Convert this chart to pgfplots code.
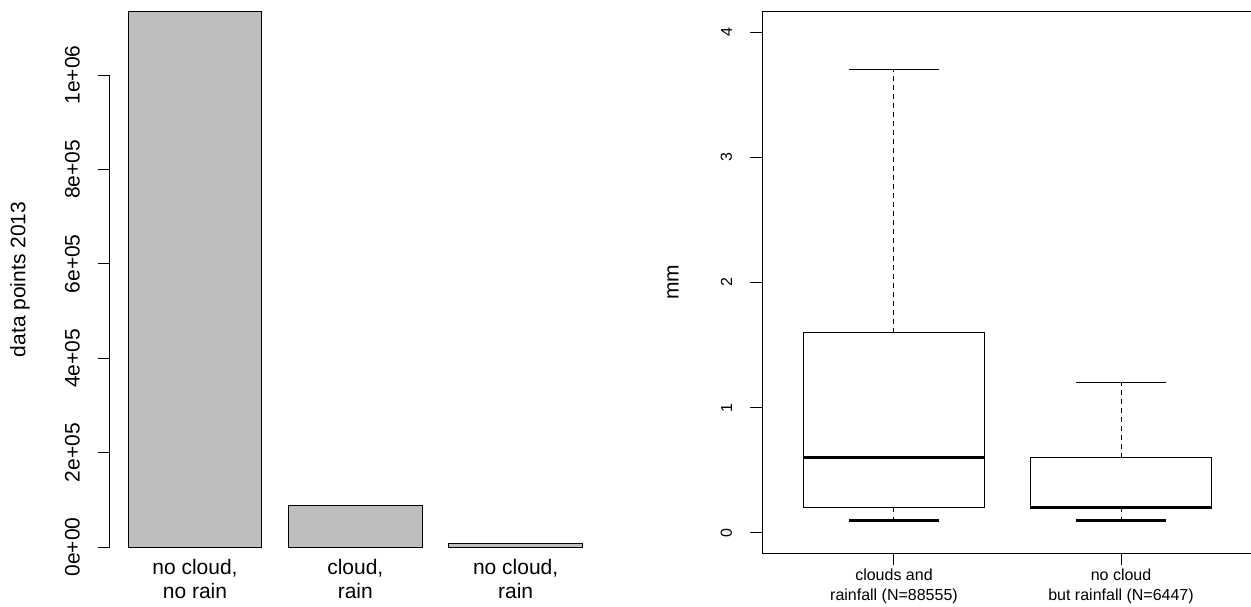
\documentclass[border=0pt]{standalone}
\usepackage{fontspec}
\setmainfont{Liberation Sans}
\usepackage{pgfplots}
\pgfplotsset{compat=1.18}
\usepgfplotslibrary{statistics}
\definecolor{bargray}{HTML}{BEBEBE}
\begin{document}
\begin{tikzpicture}
\useasboundingbox (0pt,0pt) rectangle (1251pt,606pt);
% ---------------- left: bar chart ----------------
\begin{axis}[
  at={(110pt,59pt)}, anchor=south west,
  scale only axis, width=490.6pt, height=535pt,
  xmin=0.064, xmax=3.736, ymin=0, ymax=1133500,
  clip=false,
  axis line style={draw=none},
  tick align=outside, major tick length=12pt,
  every tick/.style={black, line width=1pt},
  xtick={0.7,1.9,3.1},
  xticklabels={{no cloud,\\no rain},{cloud,\\rain},{no cloud,\\rain}},
  xtick style={draw=none},
  xticklabel style={align=center, inner sep=0pt, font=\fontsize{21}{24}\selectfont},
  ytick={0,200000,400000,600000,800000,1000000},
  yticklabels={0e+00,2e+05,4e+05,6e+05,8e+05,1e+06},
  scaled y ticks=false,
  xtick pos=bottom, ytick pos=left,
  yticklabel style={rotate=90, anchor=south, inner sep=0pt, font=\fontsize{21}{24}\selectfont},
  yticklabel shift=18pt,
  ylabel={data points 2013},
  ylabel style={at={(rel axis cs:-0.1835,0.5)}, anchor=center, font=\fontsize{21}{24}\selectfont},
]
\addplot[ybar, bar width=1, bar shift=0pt, fill=bargray, draw=black, line width=1pt]
  coordinates {(0.7,1133500) (1.9,88555) (3.1,6447)};
\draw[line width=1pt] (axis cs:0.064,0) -- (axis cs:0.064,1000000);
\end{axis}
% ---------------- right: boxplot ----------------
\begin{axis}[
  at={(762.3pt,53pt)}, anchor=south west,
  scale only axis, width=490.4pt, height=541pt,
  xmin=0.42, xmax=2.58, ymin=-0.16, ymax=4.16,
  axis line style={line width=1pt, black},
  tick align=outside, major tick length=12pt,
  every tick/.style={black, line width=1pt},
  xtick={1,2}, xtick pos=bottom, ytick pos=left,
  xticklabels={{clouds and\\rainfall (N=88555)},{no cloud\\but rainfall (N=6447)}},
  xticklabel style={align=center, inner sep=0pt, yshift=-4pt, font=\fontsize{16}{20}\selectfont},
  ytick={0,1,2,3,4},
  yticklabels={0,1,2,3,4},
  yticklabel style={rotate=90, anchor=south, inner sep=0pt, font=\fontsize{16}{20}\selectfont},
  yticklabel shift=18pt,
  ylabel={mm},
  ylabel style={at={(rel axis cs:-0.182,0.5)}, anchor=center, font=\fontsize{21}{24}\selectfont},
  boxplot/draw direction=y,
  boxplot/every median/.style={line width=3pt},
  boxplot/draw/lower whisker/.code={%
    \draw[dash pattern=on 4.5pt off 4.5pt, line width=1pt]
      (boxplot cs:\pgfplotsboxplotvalue{lower quartile}) -- (boxplot cs:\pgfplotsboxplotvalue{lower whisker});
    \draw[line width=2.5pt]
      (boxplot whisker cs:\pgfplotsboxplotvalue{lower whisker},0) -- (boxplot whisker cs:\pgfplotsboxplotvalue{lower whisker},1);
  },
  boxplot/draw/upper whisker/.code={%
    \draw[dash pattern=on 4.5pt off 4.5pt, line width=1pt]
      (boxplot cs:\pgfplotsboxplotvalue{upper quartile}) -- (boxplot cs:\pgfplotsboxplotvalue{upper whisker});
    \draw[line width=1pt]
      (boxplot whisker cs:\pgfplotsboxplotvalue{upper whisker},0) -- (boxplot whisker cs:\pgfplotsboxplotvalue{upper whisker},1);
  },
]
\addplot[black, line width=1pt, boxplot prepared={draw position=1, lower whisker=0.1, lower quartile=0.2, median=0.6, upper quartile=1.6, upper whisker=3.7, box extend=0.8, whisker extend=0.4}] coordinates {};
\addplot[black, line width=1pt, boxplot prepared={draw position=2, lower whisker=0.1, lower quartile=0.2, median=0.2, upper quartile=0.6, upper whisker=1.2, box extend=0.8, whisker extend=0.4}] coordinates {};
\end{axis}
\end{tikzpicture}
\end{document}
